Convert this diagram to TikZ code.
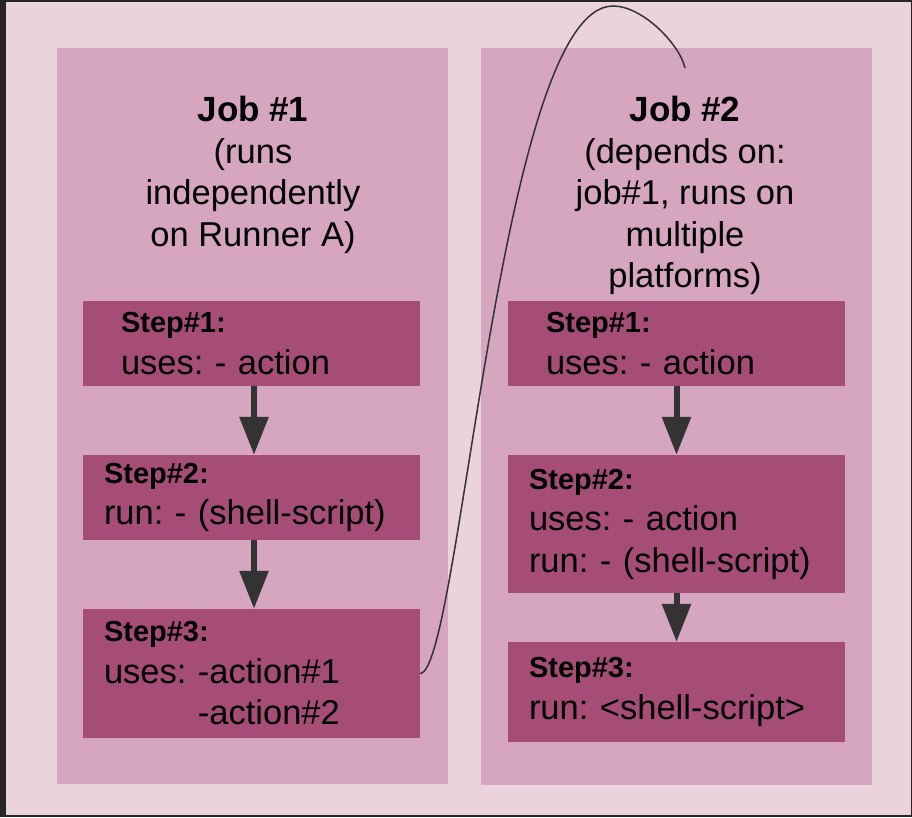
\documentclass[tikz,border=0pt]{standalone}
\usepackage{fontspec}
\setmainfont{Liberation Sans}
\usetikzlibrary{arrows.meta}

\definecolor{pagepink}{HTML}{EBD3DD}
\definecolor{jobpink}{HTML}{D6A5BF}
\definecolor{stepplum}{HTML}{A54D77}
\definecolor{framegray}{HTML}{262626}
\definecolor{inkgray}{HTML}{333333}

\newcommand{\stepname}[1]{{\fontsize{29}{41}\selectfont\bfseries #1}}

\begin{document}
\frenchspacing
\begin{tikzpicture}[
        x=1pt, y=-1pt,
        every node/.style={font=\fontsize{34.5}{41.5}\selectfont},
        % Box Styles
        jobbox/.style={
            rectangle,
            fill=jobpink,
            minimum width=391pt,
            inner sep=0pt
        },
        jobtitle/.style={
            align=center,
            inner sep=0pt,
            anchor=north
        },
        stepbox/.style={
            rectangle,
            fill=stepplum,
            align=left,
            inner ysep=0pt,
            inner xsep=21pt,
            text width=295pt
        },
        firststep/.style={
            stepbox,
            inner xsep=38pt,
            text width=261pt
        },
        % Connector Styles
        flow/.style={-{Triangle[width=28pt,length=38pt]}, line width=6pt, draw=inkgray},
        link/.style={line width=1.5pt, draw=inkgray}
    ]

    % --- Page ---
    \fill[framegray] (0,0) rectangle (912,817);
    \fill[pagepink] (6,2) rectangle (911,815);
    \useasboundingbox (0,0) rectangle (912,817);

    % --- Job #1 (Left) ---
    \node[jobbox, minimum height=736pt] (job1) at (252.5,416) {};
    \node[jobtitle] (t1) at (253,96) {
        {\fontsize{35}{41.5}\selectfont\bfseries Job \#1}\\
        (runs\\independently\\on Runner A)
    };
    \node[firststep, minimum height=85pt] (a1) at (251.5,343.5) {\stepname{Step\#1:}\\uses: - action};
    \node[stepbox, minimum height=85pt] (a2) at (251.5,497.5) {\stepname{Step\#2:}\\run: - (shell-script)};
    \node[stepbox, minimum height=129pt] (a3) at (251.5,673.5) {\stepname{Step\#3:}\\uses: -action\#1\\\hphantom{uses: }-action\#2};

    % --- Job #2 (Right) ---
    \node[jobbox, minimum height=737pt] (job2) at (676.5,416.5) {};
    \node[jobtitle] (t2) at (685,96) {
        {\fontsize{35}{41.5}\selectfont\bfseries Job \#2}\\
        (depends on:\\job\#1, runs on\\multiple\\platforms)
    };
    \node[firststep, minimum height=85pt] (b1) at (676.5,343.5) {\stepname{Step\#1:}\\uses: - action};
    \node[stepbox, minimum height=138pt] (b2) at (676.5,524) {\stepname{Step\#2:}\\uses: - action\\run: - (shell-script)};
    \node[stepbox, minimum height=100pt] (b3) at (676.5,692) {\stepname{Step\#3:}\\run: <shell-script>};

    % --- Paths & Connections ---
    \draw[flow] ([xshift=2.5pt]a1.south) -- ([xshift=2.5pt]a2.north);
    \draw[flow] ([xshift=2.5pt]a2.south) -- ([xshift=2.5pt]a3.north);
    \draw[flow] (b1) -- (b2);
    \draw[flow] (b2) -- (b3);

    % Dependency link from job #1 to job #2
    \coordinate (peak) at (613,6);
    \draw[link] (a3.east) .. controls +(40,-2) and +(-113,0) .. (peak)
        .. controls +(30,0) and +(-5,-23) .. ([yshift=28pt]t2.north);

\end{tikzpicture}
\end{document}
